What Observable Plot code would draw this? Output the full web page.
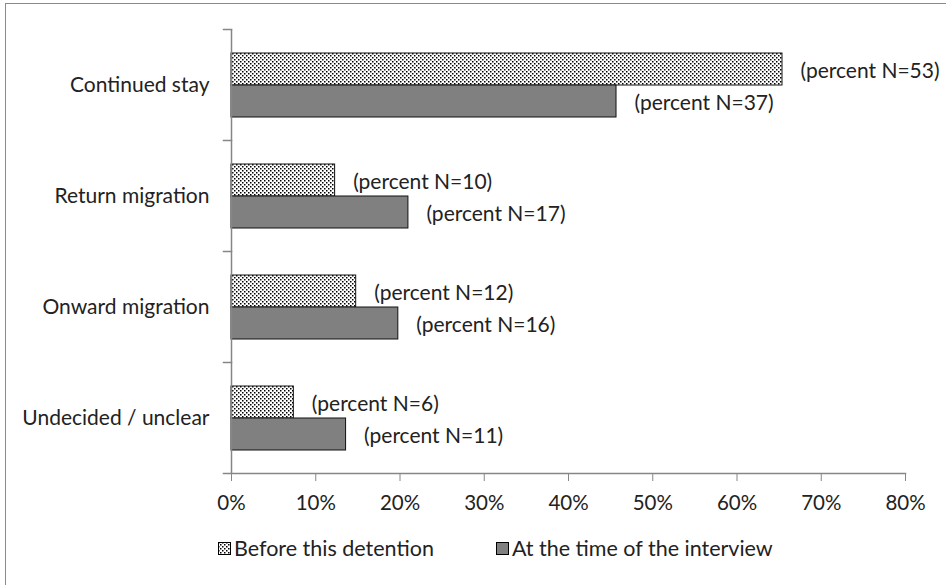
<!DOCTYPE html>
<html>
<head>
<meta charset="utf-8">
<script src="https://cdn.jsdelivr.net/npm/d3@7"></script>
<script src="https://cdn.jsdelivr.net/npm/@observablehq/plot@0.6"></script>
<style>
  html, body { margin: 0; padding: 0; background: #fff; overflow: hidden; }
  #wrap { position: relative; width: 946px; height: 585px; font-family: Lato, "Open Sans", sans-serif; color: #222; }
  #border { position: absolute; left: 5px; top: 3px; width: 980px; height: 620px; border: 1px solid #8a8a8a; pointer-events: none; }
  #legend { display: flex; justify-content: flex-start; gap: 62px; padding-left: 218px; margin-top: 12px; line-height: 22px; font-size: 21.5px; }
  #legend .item { display: flex; align-items: center; gap: 3px; }
  #legend svg { display: block; }
</style>
</head>
<body>
<div id="wrap">
  <div id="chart"></div>
  <div id="legend"></div>
  <div id="border"></div>
</div>
<script>
// ---- data ----
const categories = ["Continued stay", "Return migration", "Onward migration", "Undecided / unclear"];
const series = ["Before this detention", "At the time of the interview"];
const beforePercent = [65.4, 12.3, 14.8, 7.4];
const interviewPercent = [45.7, 21.0, 19.8, 13.6];
const beforeN = [53, 10, 12, 6];
const interviewN = [37, 17, 16, 11];
const xTicks = [0, 10, 20, 30, 40, 50, 60, 70, 80];

const data = [];
categories.forEach((c, i) => {
  data.push({category: c, series: series[0], value: beforePercent[i], label: `(percent N=${beforeN[i]})`});
  data.push({category: c, series: series[1], value: interviewPercent[i], label: `(percent N=${interviewN[i]})`});
});

const axisColor = "#868686";
const plotWidth = 946 - 231 - 41;

const chart = Plot.plot({
  width: 946,
  height: 525,
  marginLeft: 231,
  marginRight: 41,
  marginTop: 28,
  marginBottom: 51,
  style: {fontFamily: "Lato, 'Open Sans', sans-serif", fontSize: "20px", color: "#222", background: "transparent", overflow: "visible"},
  x: {domain: [0, 80]},
  y: {domain: series, paddingInner: 0, paddingOuter: 0.73, axis: null},
  fy: {domain: categories, padding: 0, label: null},
  color: {domain: series, range: ["url(#dots)", "#808080"]},
  marks: [
    Plot.axisFy({anchor: "left", tickSize: 0, tickPadding: 22, fontSize: 21, label: null}),
    Plot.axisX({ticks: xTicks, tickFormat: d => d + "%", tickSize: 8, tickPadding: 14, stroke: axisColor, fontSize: 20.5, label: null}),
    Plot.barX(data, {x: "value", y: "series", fy: "category", fill: "series", stroke: "#111", strokeWidth: 1}),
    Plot.text(data, {x: "value", y: "series", fy: "category", text: "label", dx: 18, dy: 2, textAnchor: "start", fontSize: 21, fill: "#222"}),
    Plot.ruleX([0], {stroke: axisColor, strokeWidth: 1.5}),
    Plot.frame({anchor: "top", insetLeft: -8, insetRight: plotWidth, stroke: axisColor, strokeWidth: 1.5}),
    Plot.frame({anchor: "bottom", insetLeft: -8, stroke: axisColor, strokeWidth: 1.5, fy: [categories[categories.length - 1]]})
  ]
});

const defs = d3.select(chart).insert("defs", ":first-child");
const pat = defs.append("pattern").attr("id", "dots").attr("patternUnits", "userSpaceOnUse")
  .attr("width", 4).attr("height", 4);
pat.append("rect").attr("width", 4).attr("height", 4).attr("fill", "#fff");
pat.append("rect").attr("x", 0).attr("y", 0).attr("width", 1.5).attr("height", 1.5).attr("fill", "#000");
pat.append("rect").attr("x", 2).attr("y", 2).attr("width", 1.5).attr("height", 1.5).attr("fill", "#000");

document.getElementById("chart").appendChild(chart);

// legend
const legend = d3.select("#legend");
const fills = ["url(#dots)", "#808080"];
series.forEach((s, i) => {
  const item = legend.append("div").attr("class", "item");
  const sw = item.append("svg").attr("width", 13).attr("height", 13);
  sw.append("rect").attr("x", 0.5).attr("y", 0.5).attr("width", 12).attr("height", 12)
    .attr("fill", fills[i]).attr("stroke", "#000").attr("stroke-width", 1);
  item.append("span").text(s);
});
</script>
</body>
</html>
